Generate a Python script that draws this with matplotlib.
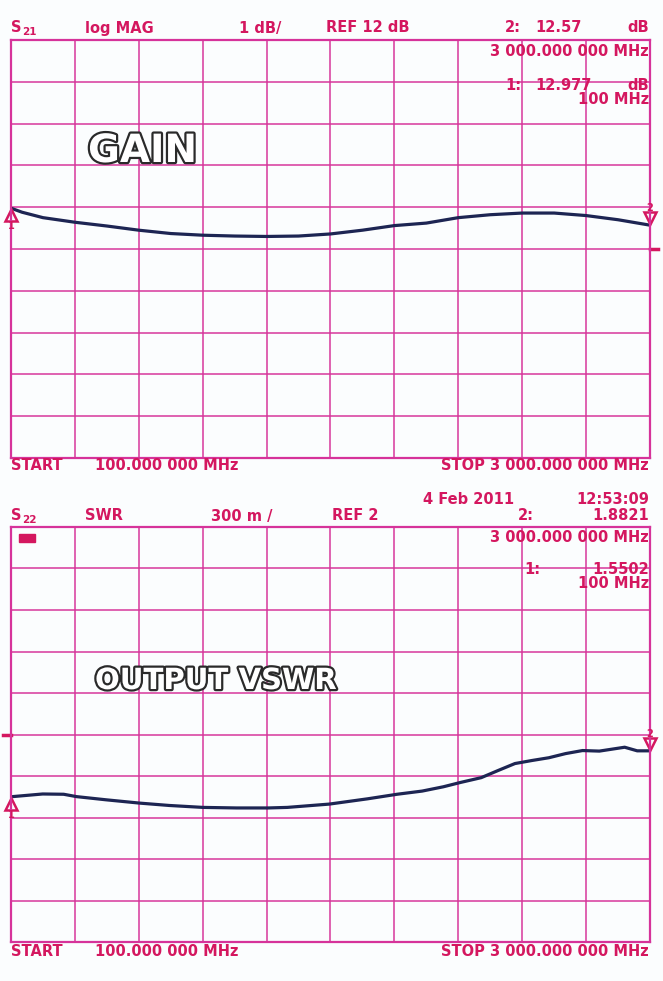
"""HP ネットワークアナライザ画面風: S21 ゲインと S22 出力 VSWR の 2 段プロット。"""
import matplotlib
matplotlib.use("Agg")
import matplotlib.pyplot as plt
import matplotlib.patheffects as pe
from matplotlib.transforms import offset_copy

W, H = 663, 981

# S21 gain (dB) vs frequency (MHz)
gain_freq = [100, 150, 245, 390, 535, 680, 825, 970, 1115, 1260, 1405, 1550,
             1695, 1840, 1985, 2130, 2275, 2420, 2565, 2710, 2855, 3000]
gain_db = [12.977, 12.88, 12.75, 12.64, 12.55, 12.45, 12.37, 12.33, 12.31, 12.30,
           12.31, 12.36, 12.45, 12.56, 12.62, 12.75, 12.82, 12.86, 12.86, 12.80,
           12.70, 12.57]

# S22 VSWR vs frequency (MHz)
vswr_freq = [100, 244, 339, 397, 531, 684, 818, 971, 1124, 1268, 1354, 1545,
             1718, 1852, 1966, 2062, 2139, 2234, 2311, 2387, 2464, 2541, 2617,
             2694, 2770, 2885, 2942, 3000]
vswr = [1.550, 1.570, 1.568, 1.551, 1.528, 1.504, 1.487, 1.473, 1.469, 1.469,
        1.473, 1.497, 1.535, 1.568, 1.591, 1.622, 1.653, 1.688, 1.740, 1.790,
        1.812, 1.832, 1.862, 1.884, 1.880, 1.908, 1.882, 1.882]

GRID = "#d6339a"
TXT = "#d4175f"
TRACE = "#1d2553"
BG = "#fbfdfe"

fig = plt.figure(figsize=(W / 100, H / 100), dpi=100, facecolor=BG)


def px_axes(x0, y0, x1, y1):
    return fig.add_axes([x0 / W, 1 - y1 / H, (x1 - x0) / W, (y1 - y0) / H])


def put(x, y, s, ha="left", size=10.5, **kw):
    fig.text(x / W, 1 - y / H, s, ha=ha, va="center", color=TXT, fontsize=size,
             fontweight="bold", family="DejaVu Sans", **kw)


def screen(ax, ylo, yhi, ref_side):
    ax.set_facecolor(BG)
    ax.set_xlim(100, 3000)
    ax.set_ylim(ylo, yhi)
    ax.set_xticks([100 + i * 290 for i in range(11)])
    ax.set_yticks([ylo + i * (yhi - ylo) / 10 for i in range(11)])
    ax.grid(True, color=GRID, lw=1.2, alpha=0.9)
    ax.tick_params(length=0, labelbottom=False, labelleft=False)
    for sp in ax.spines.values():
        sp.set_color(GRID)
        sp.set_linewidth(1.6)
    # reference position tick
    if ref_side == "right":
        ax.plot([1.0, 1.012], [0.5, 0.5], color=TXT, lw=2.5,
                transform=ax.transAxes, clip_on=False)
    else:
        ax.plot([-0.012, 0.0], [0.5, 0.5], color=TXT, lw=2.5,
                transform=ax.transAxes, clip_on=False)


def markers(ax, x, y):
    up = offset_copy(ax.transData, fig=fig, y=-7, units="dots")
    ax.plot(x[0], y[0], marker="^", ms=9, mfc="none", mec=TXT, mew=1.8,
            transform=up, clip_on=False)
    one = offset_copy(ax.transData, fig=fig, y=-18, units="dots")
    ax.text(x[0], y[0], "1", transform=one, color=TXT, fontsize=7,
            fontweight="bold", ha="center", va="center")
    dn = offset_copy(ax.transData, fig=fig, y=7, units="dots")
    ax.plot(x[-1], y[-1], marker="v", ms=9, mfc="none", mec=TXT, mew=1.8,
            transform=dn, clip_on=False)
    two = offset_copy(ax.transData, fig=fig, y=17, units="dots")
    ax.text(x[-1], y[-1], "2", transform=two, color=TXT, fontsize=7,
            fontweight="bold", ha="center", va="center")


outline = [pe.withStroke(linewidth=3.2, foreground="#2a2a2a")]

# ---- upper screen: S21 gain
ax1 = px_axes(11, 40, 650, 458)
screen(ax1, 7, 17, "right")
ax1.plot(gain_freq, gain_db, color=TRACE, lw=2.3, solid_capstyle="round")
markers(ax1, gain_freq, gain_db)
fig.text(88 / W, 1 - 151 / H, "GAIN", color="white", fontsize=28,
         fontweight="bold", va="center", path_effects=outline)

put(11, 28, "S")
put(22, 32, "21", size=7.5)
put(85, 28, "log MAG")
put(239, 28, "1 dB/")
put(326, 28, "REF 12 dB")
put(505, 28, "2:")
put(535, 28, "12.57")
put(649, 28, "dB", ha="right")
put(649, 52, "3 000.000 000 MHz", ha="right")
put(505, 85, "1:")
put(535, 85, "12.977")
put(649, 85, "dB", ha="right")
put(649, 100, "100 MHz", ha="right")
put(11, 466, "START")
put(95, 466, "100.000 000 MHz")
put(649, 466, "STOP 3 000.000 000 MHz", ha="right")

# ---- lower screen: S22 VSWR
ax2 = px_axes(11, 527, 650, 942)
screen(ax2, 0.5, 3.5, "left")
ax2.plot(vswr_freq, vswr, color=TRACE, lw=2.3, solid_capstyle="round")
markers(ax2, vswr_freq, vswr)
fig.text(95 / W, 1 - 681 / H, "OUTPUT VSWR", color="white", fontsize=21,
         fontweight="bold", va="center", path_effects=outline)
ax2.add_patch(plt.Rectangle((0.013, 0.965), 0.025, 0.018, color=TXT,
                            transform=ax2.transAxes))

put(423, 500, "4 Feb 2011")
put(649, 500, "12:53:09", ha="right")
put(11, 516, "S")
put(22, 520, "22", size=7.5)
put(85, 516, "SWR")
put(211, 516, "300 m /")
put(332, 516, "REF 2")
put(518, 516, "2:")
put(649, 516, "1.8821", ha="right")
put(649, 537, "3 000.000 000 MHz", ha="right")
put(524, 569, "1:")
put(649, 569, "1.5502", ha="right")
put(649, 584, "100 MHz", ha="right")
put(11, 951, "START")
put(95, 951, "100.000 000 MHz")
put(649, 951, "STOP 3 000.000 000 MHz", ha="right")

fig.savefig("out.png", dpi=100, facecolor=BG)
